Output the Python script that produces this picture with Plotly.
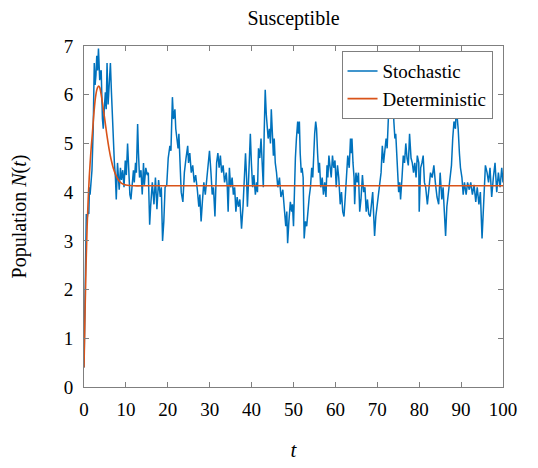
import plotly.graph_objects as go

# ---- data ----
t_stoch = [0.0, 0.15, 0.3, 0.45, 0.55, 0.75, 0.95, 1.15, 1.3, 1.45, 1.6, 1.9, 2.2, 2.45, 2.65, 2.85,
           3.05, 3.25, 3.45, 3.6, 3.75, 3.9, 4.1, 4.4, 4.6, 4.9, 5.1, 5.3, 5.5, 5.75, 6.0, 6.3,
           6.55, 6.75, 7.0, 7.25, 7.5, 7.7, 8.0, 8.2, 8.4, 8.7, 8.95, 9.25, 9.55, 9.85, 10.1, 10.4,
           10.7, 10.95, 11.2, 11.5, 11.8, 12.0, 12.3, 12.5, 12.8, 13.0, 13.25, 13.6, 13.9, 14.2, 14.4,
           14.75, 15.1, 15.35, 15.67, 15.9, 16.3, 16.7, 17.05, 17.4, 17.8, 18.2, 18.45, 18.75, 19.05,
           19.35, 19.75, 20.1, 20.5, 20.75, 21.1, 21.35, 21.7, 21.9, 22.2, 22.45, 22.65, 22.95, 23.2,
           23.6, 23.95, 24.35, 24.75, 24.95, 25.25, 25.6, 25.95, 26.3, 26.65, 27.05, 27.4, 27.65,
           27.95, 28.25, 28.6, 28.95, 29.35, 29.65, 29.95, 30.3, 30.6, 30.9, 31.25,
           31.65, 31.95, 32.25, 32.55, 32.85, 33.2, 33.55, 33.95, 34.2, 34.4, 34.7, 35.0, 35.35, 35.65,
           35.95, 36.25, 36.55, 36.85, 37.2, 37.4, 37.6, 37.95, 38.2, 38.55, 38.8, 39.0, 39.3, 39.7,
           39.95, 40.25, 40.55, 40.9, 41.2, 41.4, 41.65, 41.95, 42.25, 42.55, 42.8, 43.0, 43.25, 43.5,
           43.7, 43.95, 44.25, 44.5, 44.7, 44.95, 45.2, 45.4, 45.65, 45.95, 46.25, 46.65, 47.0, 47.45,
           47.6, 47.9, 48.15, 48.4, 48.6, 48.9, 49.25, 49.55, 49.75, 50.0, 50.2, 50.45, 50.7, 51.0,
           51.2, 51.4, 51.6, 51.85, 52.05, 52.3, 52.55, 52.85, 53.15, 53.45, 53.75, 54.05, 54.35, 54.6,
           54.85, 55.05, 55.3, 55.5, 55.75, 56.0, 56.2, 56.5, 56.85, 57.15, 57.45, 57.75, 58.0, 58.2,
           58.45, 58.7, 59.0, 59.3, 59.6, 59.9, 60.2, 60.5, 60.8, 61.15, 61.45, 61.75, 62.05, 62.35,
           62.65, 62.95, 63.3, 63.6, 63.75, 63.95, 64.2, 64.45, 64.6, 64.9, 65.2, 65.5, 65.8, 66.1,
           66.45, 66.75, 67.05, 67.35, 67.65, 67.95, 68.3, 68.6, 68.9, 69.1, 69.35, 69.65, 69.95, 70.3,
           70.6, 70.9, 71.2, 71.5, 71.8, 72.1, 72.35, 72.6, 72.8, 73.05, 73.3, 73.5, 73.75, 73.95,
           74.2, 74.4, 74.65, 74.9, 75.1, 75.35, 75.55, 75.9, 76.2, 76.5, 76.8, 77.1, 77.4, 77.7,
           78.05, 78.35, 78.65, 78.95, 79.25, 79.55, 79.9, 80.0, 80.35, 80.65, 80.95, 81.25, 81.55,
           81.95, 82.3, 82.7, 83.1, 83.5, 83.85, 84.25, 84.65, 85.0, 85.4, 85.7, 86.0, 86.3, 86.6,
           86.95, 87.35, 87.7, 88.0, 88.3, 88.65, 88.85, 89.1, 89.3, 89.6, 89.85, 90.2, 90.5, 90.8,
           91.2, 91.55, 91.95, 92.3, 92.7, 93.1, 93.5, 93.85, 94.25, 94.6, 95.0, 95.4, 95.8, 96.2,
           96.55, 96.9, 97.3, 97.7, 98.1, 98.5, 98.9, 99.3, 99.7, 100.0]
n_stoch = [0.40, 1.2, 2.0, 3.0, 3.55, 3.45, 3.6, 3.55, 4.1, 3.95, 4.15, 4.45, 5.3, 6.65, 6.2, 6.4,
           6.8, 6.5, 6.95, 6.6, 6.3, 6.45, 6.5, 5.5, 5.3, 5.8, 6.05, 5.7, 6.65, 5.8, 6.3, 6.65,
           6.05, 5.5, 5.15, 4.6, 4.3, 3.85, 4.6, 4.3, 4.05, 4.5, 4.25, 4.45, 4.1, 4.65, 4.35, 5.0,
           4.4, 3.95, 3.85, 4.15, 4.45, 4.2, 4.6, 4.4, 5.4, 4.8, 4.3, 4.45, 3.95, 4.6, 4.15,
           4.5, 4.35, 4.4, 3.33, 3.7, 4.2, 3.75, 4.3, 3.65, 4.25, 3.9, 4.1, 3.0, 3.4,
           4.1, 4.15, 4.7, 4.95, 4.85, 5.95, 5.5, 5.7, 5.3, 5.1, 4.9, 5.2, 4.4, 4.0,
           3.8, 4.4, 4.7, 4.95, 4.6, 4.8, 4.4, 4.55, 4.2, 4.35, 4.05, 3.7, 3.95,
           3.4, 3.8, 4.2, 3.95, 4.3, 4.5, 4.85, 4.4, 3.95, 4.1, 3.5,
           4.6, 4.8, 4.5, 4.75, 4.4, 4.55, 4.2, 4.4, 4.1, 3.6, 4.5, 4.1, 4.3, 3.95,
           4.1, 3.6, 3.9, 3.7, 3.85, 3.5, 3.25, 3.7, 4.2, 4.8, 4.3, 3.7, 4.3, 5.2,
           4.6, 4.1, 4.35, 3.95, 4.2, 4.0, 4.9, 4.7, 5.1, 4.6, 4.1, 5.2, 6.1, 5.6,
           5.4, 5.1, 5.3, 5.0, 5.7, 5.2, 4.75, 5.1, 4.6, 4.4, 4.1, 4.3, 3.9, 4.05,
           3.9, 3.6, 3.3, 3.6, 2.95, 3.4, 3.8, 3.6, 3.75, 3.3, 4.2, 4.7, 5.1, 5.45,
           5.2, 5.45, 4.8, 4.4, 4.5, 4.3, 3.05, 3.4, 3.3, 3.7, 3.9, 4.1, 4.5, 4.3,
           4.9, 5.2, 5.45, 5.3, 4.8, 4.4, 4.6, 4.1, 4.3, 3.95, 4.2, 3.9, 4.55, 4.3,
           4.75, 4.5, 4.3, 4.75, 4.5, 4.65, 4.1, 4.55, 4.3, 3.75, 4.0, 3.6, 3.5, 3.9,
           4.3, 4.75, 4.5, 5.1, 4.8, 5.1, 4.6, 4.3, 3.75, 4.4, 4.2, 4.4, 3.6, 3.85,
           4.35, 4.0, 4.1, 3.6, 3.85, 3.55, 3.5, 3.8, 4.0, 3.6, 3.1, 3.5, 3.75, 4.0,
           4.15, 4.4, 4.95, 4.6, 4.85, 5.1, 4.9, 5.3, 5.85, 5.6, 5.75, 5.5, 5.9, 5.45,
           5.1, 5.2, 4.8, 4.4, 4.0, 4.2, 3.85, 4.3, 4.75, 4.6, 5.0, 4.7, 4.55, 5.2,
           4.7, 4.6, 4.4, 4.6, 4.3, 4.75, 4.6, 3.6, 4.5, 4.6, 4.75, 4.2, 4.1,
           3.75, 4.0, 4.4, 4.3, 4.55, 4.2, 3.9, 3.75, 4.4, 3.85, 4.1, 3.6, 3.1, 3.7,
           4.0, 4.3, 4.55, 5.1, 5.45, 5.3, 5.75, 5.5, 5.3, 4.8, 4.5, 4.3, 3.95, 4.2,
           3.95, 4.2, 4.05, 4.2, 3.95, 4.15, 3.8, 4.1, 3.75, 4.0, 3.05, 3.8, 4.55, 4.4,
           4.2, 4.5, 3.9, 4.3, 4.6, 4.0, 4.4, 4.1, 4.5, 4.2]

t_det = [0, 0.25, 0.5, 0.75, 1, 1.25, 1.5, 1.75, 2, 2.25, 2.5, 2.75, 3, 3.25, 3.5, 3.75, 4,
         4.25, 4.5, 4.75, 5, 5.5, 6, 6.5, 7, 7.5, 8, 8.5, 9, 9.5, 10, 11, 12, 14, 100]
n_det = [0.40, 1.55, 2.55, 3.3, 3.85, 4.3, 4.65, 4.95, 5.2, 5.5, 5.75, 5.95, 6.08, 6.15, 6.18,
         6.15, 6.05, 5.92, 5.77, 5.62, 5.47, 5.15, 4.88, 4.66, 4.49, 4.37, 4.28, 4.22, 4.18,
         4.16, 4.145, 4.135, 4.13, 4.13, 4.13]

x_ticks = [0, 10, 20, 30, 40, 50, 60, 70, 80, 90, 100]
y_ticks = [0, 1, 2, 3, 4, 5, 6, 7]

FONT = "Liberation Serif"

fig = go.Figure()
fig.add_trace(go.Scatter(x=t_stoch, y=n_stoch, mode="lines", name="Stochastic",
                         line=dict(color="#0072BD", width=1.5)))
fig.add_trace(go.Scatter(x=t_det, y=n_det, mode="lines", name="Deterministic",
                         line=dict(color="#D95319", width=1.6, shape="spline")))

axis_common = dict(showline=True, linecolor="#7f7f7f", linewidth=1, mirror="ticks",
                   ticks="inside", ticklen=5, tickcolor="#7f7f7f", showgrid=False,
                   zeroline=False, automargin=False,
                   tickfont=dict(family=FONT, size=19, color="black"))

fig.update_layout(
    font=dict(family=FONT, size=19, color="black"),
    width=538, height=468,
    margin=dict(l=76, r=43, t=38, b=89, autoexpand=False),
    paper_bgcolor="white", plot_bgcolor="white",
    title=dict(text="Susceptible", x=0.5, xref="paper", xanchor="center",
               y=1 - 10 / 468, yref="container", yanchor="middle",
               font=dict(family=FONT, size=20, color="black")),
    xaxis=dict(range=[0, 100], tickvals=x_ticks, ticktext=[str(v) for v in x_ticks],
               title=dict(text="<i>t</i>", font=dict(family=FONT, size=21, color="black"),
                          standoff=23),
               ticklabelstandoff=5, **axis_common),
    yaxis=dict(range=[0, 7], tickvals=y_ticks, ticktext=[str(v) for v in y_ticks],
               title=dict(text="Population <i>N</i>(<i>t</i>)",
                          font=dict(family=FONT, size=20, color="black"), standoff=32),
               ticklabelstandoff=6, **axis_common),
    legend=dict(x=0.975, xanchor="right", y=0.985, yanchor="top",
                bgcolor="white", bordercolor="#7f7f7f", borderwidth=1,
                font=dict(family=FONT, size=19, color="black"),
                tracegroupgap=0, itemwidth=30),
    showlegend=True,
)

fig.write_html("out.html")
